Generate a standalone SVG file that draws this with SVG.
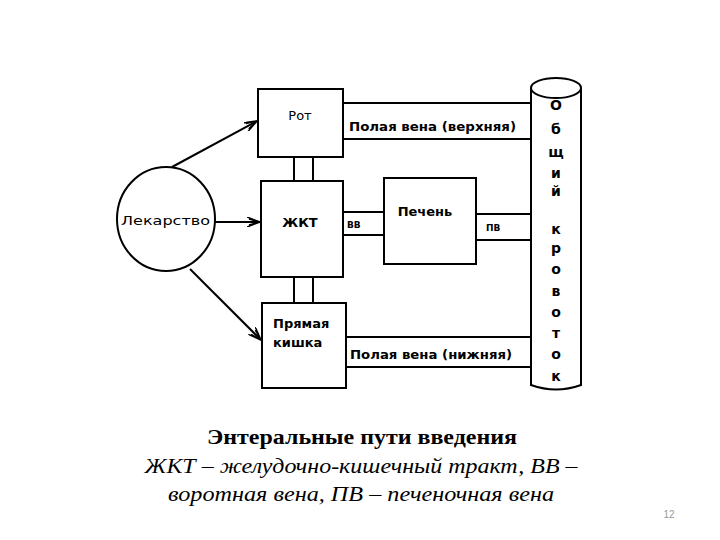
<svg xmlns="http://www.w3.org/2000/svg" width="720" height="540" viewBox="0 0 720 540">
<defs>
<marker id="arr" markerWidth="14" markerHeight="10" refX="13" refY="5" orient="auto" markerUnits="userSpaceOnUse">
<path d="M0,0 L13,5 L0,10 M2,2 L13,5 L2,8" fill="none" stroke="#000" stroke-width="1.5"/>
</marker>
</defs>
<style>
.box{fill:#fff;stroke:#000;stroke-width:2}
.ln{fill:none;stroke:#000;stroke-width:2}
.t{font-family:"DejaVu Sans","Liberation Sans",sans-serif;fill:#000}
.cap{font-family:"Liberation Serif","Times New Roman",serif;fill:#000;text-anchor:middle}
</style>
<rect width="720" height="540" fill="#fff"/>
<g id="connectors">
<line class="ln" x1="294" y1="157" x2="294" y2="181"/>
<line class="ln" x1="313" y1="157" x2="313" y2="181"/>
<line class="ln" x1="294" y1="277" x2="294" y2="303"/>
<line class="ln" x1="313" y1="277" x2="313" y2="303"/>
<line class="ln" x1="343" y1="103" x2="532" y2="103"/>
<line class="ln" x1="343" y1="139" x2="532" y2="139"/>
<line class="ln" x1="346" y1="337" x2="532" y2="337"/>
<line class="ln" x1="346" y1="367" x2="532" y2="367"/>
<line class="ln" x1="343" y1="212" x2="384" y2="212"/>
<line class="ln" x1="343" y1="235" x2="384" y2="235"/>
<line class="ln" x1="476" y1="214" x2="532" y2="214"/>
<line class="ln" x1="476" y1="240" x2="532" y2="240"/>
<line class="ln" x1="172" y1="167" x2="257" y2="121" marker-end="url(#arr)"/>
<line class="ln" x1="215" y1="222" x2="260" y2="222" marker-end="url(#arr)"/>
<line class="ln" x1="190" y1="269" x2="261" y2="340" marker-end="url(#arr)"/>
</g>
<g id="rot"><rect class="box" x="258" y="89" width="85" height="68"/><text class="t" x="300" y="120" font-size="13" text-anchor="middle">Рот</text></g>
<g id="zhkt"><rect class="box" x="261" y="181" width="82" height="96"/><text class="t" x="300" y="227" font-size="13" font-weight="bold" text-anchor="middle">ЖКТ</text></g>
<g id="pryamaya"><rect class="box" x="262" y="303" width="84" height="85"/><text class="t" x="273" y="328" font-size="13" font-weight="bold">Прямая</text><text class="t" x="273" y="347" font-size="13" font-weight="bold">кишка</text></g>
<g id="lekarstvo"><ellipse class="box" cx="166" cy="219" rx="49" ry="52"/><text class="t" x="121" y="225" font-size="12" textLength="89" lengthAdjust="spacingAndGlyphs">Лекарство</text></g>
<g id="pechen"><rect class="box" x="384" y="178" width="92" height="86"/><text class="t" x="425" y="216" font-size="13" font-weight="bold" text-anchor="middle">Печень</text></g>
<g id="vena-top"><text class="t" x="349" y="131" font-size="13" font-weight="bold" textLength="167" lengthAdjust="spacingAndGlyphs">Полая вена (верхняя)</text></g>
<g id="vena-bottom"><text class="t" x="350" y="359" font-size="13" font-weight="bold" textLength="162" lengthAdjust="spacingAndGlyphs">Полая вена (нижняя)</text></g>
<g id="vv"><text class="t" x="347" y="228" font-size="9" font-weight="bold">ВВ</text></g>
<g id="pv"><text class="t" x="486" y="231" font-size="9" font-weight="bold">ПВ</text></g>
<g id="krovotok">
<path class="box" d="M531,88 L531,385 Q556,394 581,385 L581,88"/>
<ellipse class="box" cx="556" cy="88" rx="25" ry="10"/>
<g class="t" font-size="14" font-weight="bold" text-anchor="middle">
<text x="556" y="110">О</text><text x="556" y="134">б</text><text x="556" y="157">щ</text><text x="556" y="178">и</text><text x="556" y="196">й</text>
<text x="556" y="234">к</text><text x="556" y="253">р</text><text x="556" y="274">о</text><text x="556" y="296">в</text><text x="556" y="317">о</text><text x="556" y="338">т</text><text x="556" y="359">о</text><text x="556" y="381">к</text>
</g>
</g>
<text class="cap" x="362" y="444" font-size="21" font-weight="bold" textLength="310" lengthAdjust="spacingAndGlyphs">Энтеральные пути введения</text>
<text class="cap" x="361" y="473" font-size="21" font-style="italic" textLength="433" lengthAdjust="spacingAndGlyphs">ЖКТ – желудочно-кишечный тракт, ВВ –</text>
<text class="cap" x="361" y="501" font-size="21" font-style="italic" textLength="386" lengthAdjust="spacingAndGlyphs">воротная вена, ПВ – печеночная вена</text>
<text x="669" y="518" font-size="10" fill="#999" text-anchor="middle" font-family="Liberation Sans, sans-serif">12</text>
</svg>
